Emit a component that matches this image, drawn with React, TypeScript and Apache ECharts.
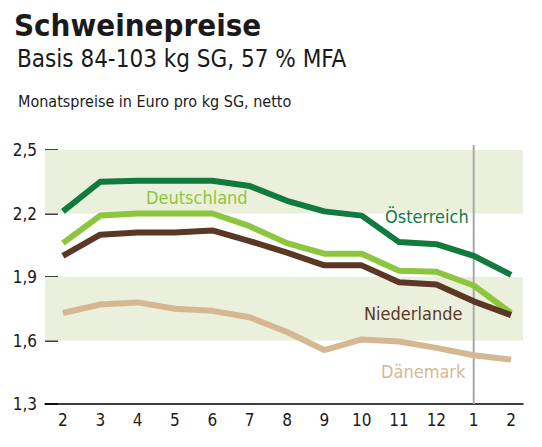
import React, { useEffect, useRef } from "react";
import * as echarts from "echarts";

const months = ["2", "3", "4", "5", "6", "7", "8", "9", "10", "11", "12", "1", "2"];
const oesterreich = [2.21, 2.35, 2.355, 2.355, 2.355, 2.33, 2.26, 2.21, 2.19, 2.065, 2.055, 2.0, 1.91];
const deutschland = [2.06, 2.19, 2.2, 2.2, 2.2, 2.14, 2.06, 2.01, 2.01, 1.93, 1.925, 1.86, 1.73];
const niederlande = [2.0, 2.1, 2.11, 2.11, 2.12, 2.07, 2.015, 1.955, 1.955, 1.875, 1.865, 1.785, 1.72];
const daenemark = [1.73, 1.77, 1.78, 1.75, 1.74, 1.71, 1.64, 1.555, 1.605, 1.595, 1.565, 1.53, 1.51];
const yTicks = [1.3, 1.6, 1.9, 2.2, 2.5];
const bands = [[2.2, 2.5], [1.6, 1.9]];
const markerMonth = 11;

const FONT = "'Liberation Sans Narrow', 'DejaVu Sans Condensed', 'Open Sans', sans-serif";

const toPairs = (arr: number[]) => arr.map((v, i) => [i, v]);

export default function App() {
  const ref = useRef<HTMLDivElement>(null);
  useEffect(() => {
    if (!ref.current) return;
    const chart = echarts.init(ref.current, null, { renderer: "svg" });
    const lineSeries = (name: string, data: number[], color: string) => ({
      name,
      type: "line",
      data: toPairs(data),
      symbol: "none",
      lineStyle: { color, width: 6, join: "round" },
      z: 3,
    });
    chart.setOption({
      animation: false,
      textStyle: { fontFamily: FONT },
      title: [
        {
          text: "Schweinepreise",
          left: 9,
          top: 4,
          textStyle: { fontFamily: FONT, fontSize: 31, fontWeight: 600, color: "#1a1a1a" },
        },
        {
          text: "Basis 84-103 kg SG, 57 % MFA",
          left: 12,
          top: 42,
          textStyle: { fontFamily: FONT, fontSize: 24, fontWeight: 400, color: "#1a1a1a" },
        },
        {
          text: "Monatspreise in Euro pro kg SG, netto",
          left: 13,
          top: 88,
          textStyle: { fontFamily: FONT, fontSize: 16, fontWeight: 400, color: "#1a1a1a" },
        },
      ],
      grid: { left: 45, right: 19, top: 150, bottom: 43, containLabel: false },
      xAxis: {
        type: "value",
        min: -0.48,
        max: 12.32,
        axisLine: { show: true, onZero: false, lineStyle: { color: "#000", width: 1.5 } },
        axisTick: { show: false },
        splitLine: { show: false },
        axisLabel: {
          customValues: months.map((_, i) => i),
          formatter: (v: number) => months[Math.round(v)],
          fontSize: 17,
          color: "#1a1a1a",
          margin: 7,
          fontFamily: FONT,
        },
      },
      yAxis: {
        type: "value",
        min: 1.3,
        max: 2.5,
        interval: 0.3,
        axisLine: { show: false, onZero: false },
        axisTick: { show: true, inside: true, length: 13, lineStyle: { color: "#000", width: 1.5 } },
        splitLine: { show: false },
        axisLabel: {
          formatter: (v: number) => (yTicks.some((t) => Math.abs(t - v) < 1e-6) ? v.toFixed(1).replace(".", ",") : ""),
          fontSize: 17,
          color: "#1a1a1a",
          margin: 8,
          fontFamily: FONT,
        },
      },
      series: [
        {
          type: "line",
          data: [],
          markArea: {
            silent: true,
            itemStyle: { color: "#ebf0dc" },
            data: bands.map((b) => [{ yAxis: b[0] }, { yAxis: b[1] }]),
          },
          z: 1,
        },
        lineSeries("Österreich", oesterreich, "#117a3e"),
        lineSeries("Deutschland", deutschland, "#8cc63e"),
        lineSeries("Niederlande", niederlande, "#5b3726"),
        lineSeries("Dänemark", daenemark, "#d5b892"),
      ],
    });
    const x = chart.convertToPixel({ xAxisIndex: 0 }, markerMonth) as number;
    const yBottom = chart.convertToPixel({ yAxisIndex: 0 }, 1.3) as number;
    const yTop = chart.convertToPixel({ yAxisIndex: 0 }, 2.5) as number;
    const label = (text: string, left: number, top: number, fill: string) => ({
      type: "text",
      left,
      top,
      z: 100,
      style: { text, fill, font: `18px ${FONT}` },
    });
    chart.setOption({
      graphic: [
        {
          type: "line",
          z: 2,
          shape: { x1: x, y1: yBottom, x2: x, y2: yTop - 5 },
          style: { stroke: "#a8a8a8", lineWidth: 2 },
        },
        label("Deutschland", 146, 188, "#8cc63e"),
        label("Österreich", 385, 207, "#117a3e"),
        label("Niederlande", 364, 304, "#5b3726"),
        label("Dänemark", 381, 362, "#d5b892"),
      ],
    });
    return () => chart.dispose();
  }, []);
  return <div ref={ref} style={{ width: 542, height: 447, position: "absolute", left: 0, top: 0, background: "#fff" }} />;
}
